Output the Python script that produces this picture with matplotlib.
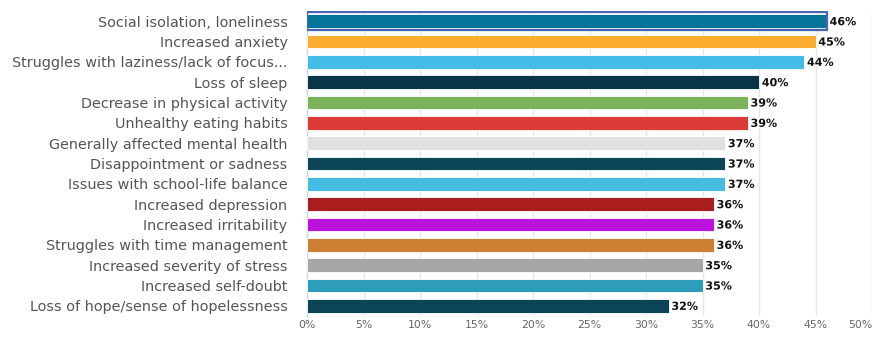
import numpy as np
from matplotlib import pyplot as plt
import matplotlib.patheffects as pe

# Données
categories = [
    "Social isolation, loneliness",
    "Increased anxiety",
    "Struggles with laziness/lack of focus...",
    "Loss of sleep",
    "Decrease in physical activity",
    "Unhealthy eating habits",
    "Generally affected mental health",
    "Disappointment or sadness",
    "Issues with school-life balance",
    "Increased depression",
    "Increased irritability",
    "Struggles with time management",
    "Increased severity of stress",
    "Increased self-doubt",
    "Loss of hope/sense of hopelessness",
]
valeurs = [46, 45, 44, 40, 39, 39, 37, 37, 37, 36, 36, 36, 35, 35, 32]
couleurs = [
    "#047498", "#fbad2d", "#45bce8", "#0a3546", "#7bb159",
    "#dc3a37", "#e0e0e0", "#0c4558", "#45bde0", "#a91d1f",
    "#bb12dc", "#cd7f33", "#a6a6a6", "#2d9dba", "#0b4457",
]
ticks_x = [0, 5, 10, 15, 20, 25, 30, 35, 40, 45, 50]

fig = plt.figure(figsize=(8.77, 3.40), dpi=100)
ax = fig.add_axes([307 / 877, 24 / 340, 565 / 877, 305 / 340])

y = np.arange(len(categories))
ax.barh(y, valeurs, height=0.68, color=couleurs, edgecolor="white", linewidth=0.6, zorder=3)

# barre survolée (contour bleu)
ax.barh(y[:1], valeurs[:1], height=0.88, left=0, color="none",
        edgecolor="#4a64b4", linewidth=1.6, zorder=4)

for yi, v in zip(y, valeurs):
    ax.text(v + 0.25, yi + 0.05, f"{v}%", va="center", ha="left", fontsize=8,
            fontweight="bold", color="#111111", zorder=5,
            path_effects=[pe.withStroke(linewidth=2, foreground="white")])

ax.set_xlim(0, 50)
ax.set_ylim(len(categories) - 0.5, -0.5)
ax.set_yticks(y)
ax.set_yticklabels(categories, fontsize=10.35, color="#555555")
ax.set_xticks(ticks_x)
ax.set_xticklabels([f"{t}%" for t in ticks_x], fontsize=7.8, color="#666666")
ax.get_xticklabels()[-1].set_horizontalalignment("right")
ax.tick_params(axis="both", length=0)
ax.tick_params(axis="y", pad=14)
ax.tick_params(axis="x", pad=3)

ax.grid(axis="x", color="#e6e6e6", linewidth=1, zorder=0)
for side in ["top", "right", "bottom"]:
    ax.spines[side].set_visible(False)
ax.spines["left"].set_color("#ccd6eb")
ax.spines["left"].set_linewidth(1)

fig.savefig("out.png", dpi=100)
